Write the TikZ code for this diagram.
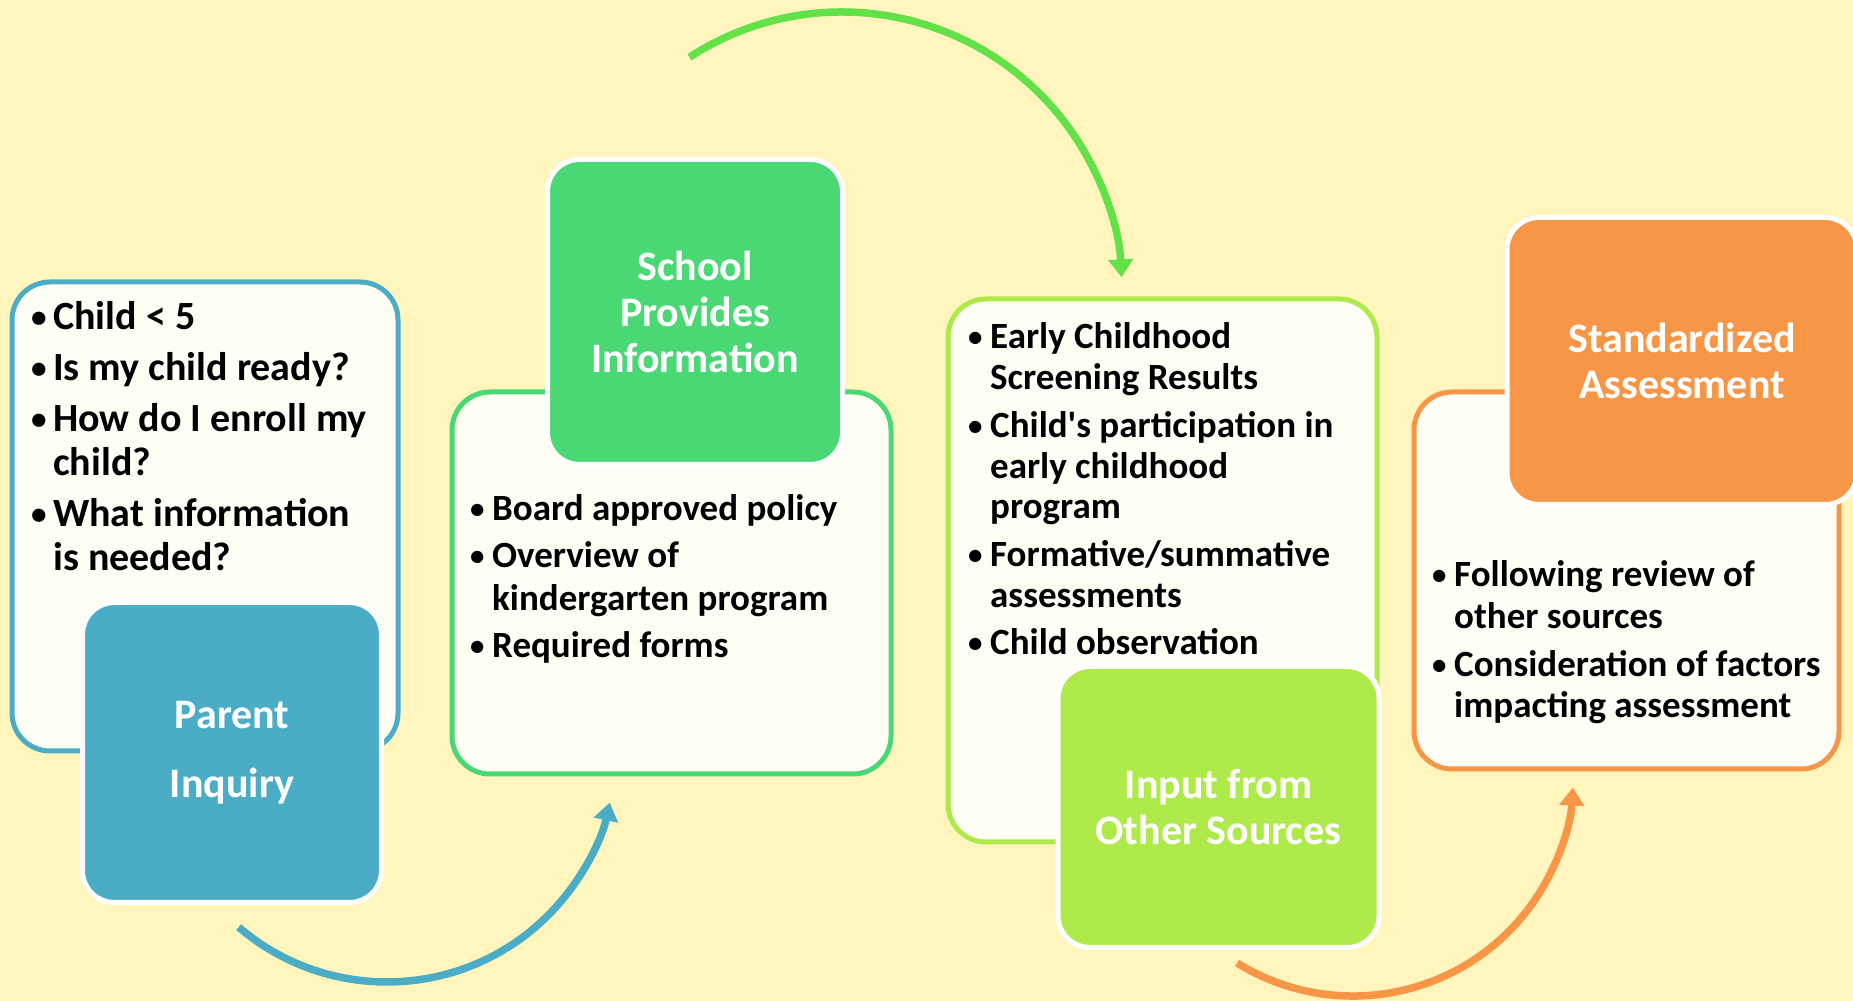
\documentclass[tikz,border=0pt]{standalone}
\usepackage{fontspec}
\setmainfont{Carlito}
\usetikzlibrary{arrows.meta}
\definecolor{bg}{HTML}{FFF5BD}
\definecolor{cream}{HTML}{FFFEF4}
\definecolor{cblue}{HTML}{4BACC6}
\definecolor{cgreen}{HTML}{4AD874}
\definecolor{clime}{HTML}{AEEA4A}
\definecolor{corange}{HTML}{F79646}
\definecolor{agreen}{HTML}{62E248}
\newlength\bw
\newcommand{\blist}[4]{\vtop{\hsize=#1\relax\baselineskip=#2\relax\parskip=#3\relax\parindent=0pt\relax\rightskip=0pt plus 1fil\relax #4}}
\newcommand{\bi}[1]{\hangindent=\bw\hangafter=1\noindent\makebox[\bw][l]{\hspace{1pt}\raisebox{0.06em}{\scalebox{0.78}{•}}}#1\par}
\tikzset{
  lightbox/.style={draw=#1, line width=5pt, fill=cream, rounded corners=38pt, inner sep=0pt},
  titlebox/.style={draw=white, line width=5pt, fill=#1, rounded corners=32pt, text=white,
    font=\fontsize{42}{46}\selectfont\bfseries, align=center, inner sep=0pt},
  listtext/.style={anchor=base west, inner sep=0pt, text=black},
  arcarrow/.style={draw=#1, line width=7.5pt, -{Triangle[length=18pt,width=24pt]}}
}
\begin{document}
\begin{tikzpicture}[x=1pt,y=1pt]
\useasboundingbox (0,0) rectangle (1853,1001);
\fill[bg] (0,0) rectangle (1853,1001);

% Box 1
\node[lightbox=cblue, minimum width=386pt, minimum height=469pt] (b1) at (205,484.5) {};
\node[titlebox=cblue, minimum width=299pt, minimum height=300pt,
  font=\fontsize{42}{69}\selectfont\bfseries] (t1) at (232,248.5) {Parent\\Inquiry};
\setlength\bw{23pt}
\node[listtext] (l1) at (30,671) {\fontsize{40}{44}\selectfont\bfseries\blist{500pt}{44pt}{7pt}{%
\bi{Child < 5}
\bi{Is my child ready?}
\bi{How do I enroll my\\child?}
\bi{What information\\is needed?}}};

% Box 2
\node[lightbox=cgreen, minimum width=439pt, minimum height=382pt] (b2) at (671.5,418) {};
\node[titlebox=cgreen, minimum width=295pt, minimum height=305pt] (t2) at (695,689) {School\\Provides\\Information};
\node[listtext] (l2) at (469,480) {\fontsize{37}{42}\selectfont\bfseries\blist{500pt}{42.5pt}{4.5pt}{%
\bi{Board approved policy}
\bi{Overview of\\kindergarten program}
\bi{Required forms}}};

% Box 3
\node[lightbox=clime, minimum width=429pt, minimum height=543pt] (b3) at (1162.5,430.5) {};
\node[titlebox=clime, minimum width=321pt, minimum height=281pt] (t3) at (1218.5,194) {Input from\\Other Sources};
\node[listtext] (l3) at (967,652) {\fontsize{37}{41}\selectfont\bfseries\blist{500pt}{40.7pt}{7pt}{%
\bi{Early Childhood\\Screening Results}
\bi{Child\textquotesingle s participation in\\early childhood\\program}
\bi{Formative/summative\\assessments}
\bi{Child observation}}};

% Box 4
\node[lightbox=corange, minimum width=425pt, minimum height=377pt] (b4) at (1626.5,420.5) {};
\node[titlebox=corange, minimum width=350pt, minimum height=287pt] (t4) at (1682,640) {Standardized\\Assessment};
\node[listtext] (l4) at (1431,414) {\fontsize{37}{41}\selectfont\bfseries\blist{500pt}{41.5pt}{6.5pt}{%
\bi{Following review of\\other sources}
\bi{Consideration of factors\\impacting assessment}}};

% Arrows
\coordinate (a1) at (238.6,73.9);
\draw[arcarrow=cblue] (a1) arc[start angle=229.4, end angle=347.7, radius=228];
\coordinate (a2) at (689.5,943.8);
\draw[arcarrow=agreen] (a2) arc[start angle=123, end angle=3, radius=280];
\coordinate (a3) at (1237.1,38.0);
\draw[arcarrow=corange] (a3) arc[start angle=238.2, end angle=357, radius=220];
\end{tikzpicture}
\end{document}
